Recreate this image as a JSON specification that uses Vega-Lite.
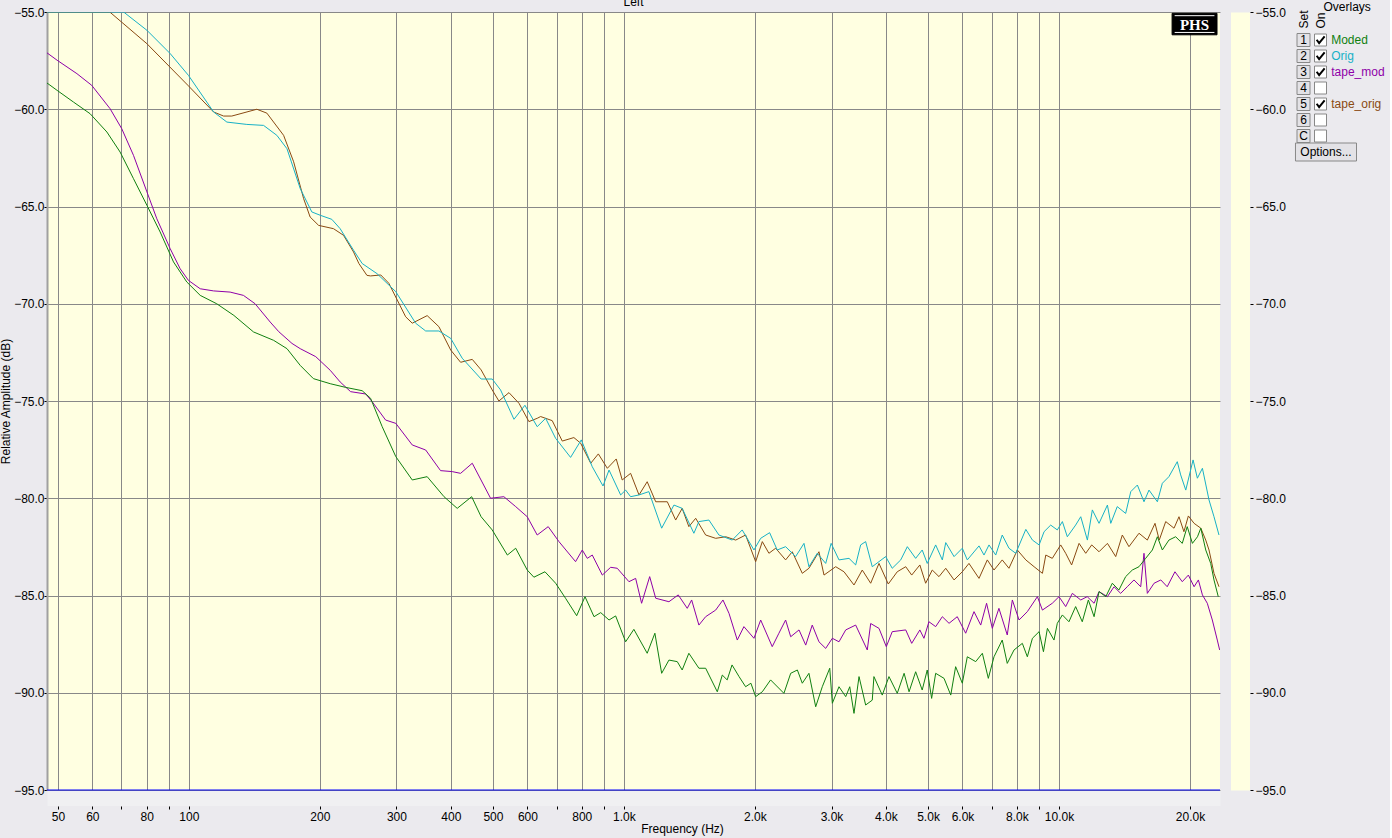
{
"$schema": "https://vega.github.io/schema/vega-lite/v6.json",
"background": "#ebeaee",
"padding": {"left": -1, "top": -4, "right": 5, "bottom": 6},
"spacing": 7,
"datasets": {
"legend": [
{"set":"1","series":"Moded","on":true},
{"set":"2","series":"Orig","on":true},
{"set":"3","series":"tape_mod","on":true},
{"set":"4","series":"","on":false},
{"set":"5","series":"tape_orig","on":true},
{"set":"6","series":"","on":false},
{"set":"C","series":"","on":false}
],
"curves": [
{"series":"tape_orig","freq":47.2,"db":-55.0},{"series":"tape_orig","freq":65.8,"db":-55.0},{"series":"tape_orig","freq":80.1,"db":-56.63},{"series":"tape_orig","freq":99.8,"db":-58.8},{"series":"tape_orig","freq":114,"db":-60.14},{"series":"tape_orig","freq":120.2,"db":-60.35},{"series":"tape_orig","freq":125.5,"db":-60.35},{"series":"tape_orig","freq":143.3,"db":-60.0},{"series":"tape_orig","freq":151.1,"db":-60.2},{"series":"tape_orig","freq":165.1,"db":-61.34},{"series":"tape_orig","freq":174.1,"db":-62.7},{"series":"tape_orig","freq":183.6,"db":-64.6},{"series":"tape_orig","freq":190,"db":-65.54},{"series":"tape_orig","freq":198.7,"db":-65.97},{"series":"tape_orig","freq":215,"db":-66.14},{"series":"tape_orig","freq":226.7,"db":-66.48},{"series":"tape_orig","freq":239.1,"db":-67.34},{"series":"tape_orig","freq":245.9,"db":-67.93},{"series":"tape_orig","freq":256.6,"db":-68.54},{"series":"tape_orig","freq":261.6,"db":-68.57},{"series":"tape_orig","freq":276.1,"db":-68.52},{"series":"tape_orig","freq":288.2,"db":-68.95},{"series":"tape_orig","freq":301.3,"db":-69.81},{"series":"tape_orig","freq":315,"db":-70.67},{"series":"tape_orig","freq":326.2,"db":-71.0},{"series":"tape_orig","freq":353,"db":-70.61},{"series":"tape_orig","freq":375.6,"db":-71.18},{"series":"tape_orig","freq":399.8,"db":-72.38},{"series":"tape_orig","freq":421.3,"db":-73.01},{"series":"tape_orig","freq":448.1,"db":-72.86},{"series":"tape_orig","freq":469.6,"db":-73.4},{"series":"tape_orig","freq":498,"db":-74.43},{"series":"tape_orig","freq":515.9,"db":-75.0},{"series":"tape_orig","freq":544.2,"db":-74.57},{"series":"tape_orig","freq":573.9,"db":-75.12},{"series":"tape_orig","freq":604.8,"db":-76.06},{"series":"tape_orig","freq":631.9,"db":-75.89},{"series":"tape_orig","freq":643.5,"db":-75.8},{"series":"tape_orig","freq":684.2,"db":-76.01},{"series":"tape_orig","freq":721.5,"db":-77.06},{"series":"tape_orig","freq":767.3,"db":-76.88},{"series":"tape_orig","freq":795.3,"db":-77.17},{"series":"tape_orig","freq":838.8,"db":-78.2},{"series":"tape_orig","freq":873.3,"db":-77.72},{"series":"tape_orig","freq":915.9,"db":-78.46},{"series":"tape_orig","freq":960,"db":-77.98},{"series":"tape_orig","freq":991,"db":-79.06},{"series":"tape_orig","freq":1036,"db":-78.72},{"series":"tape_orig","freq":1083,"db":-79.83},{"series":"tape_orig","freq":1131,"db":-79.15},{"series":"tape_orig","freq":1183,"db":-80.18},{"series":"tape_orig","freq":1258,"db":-80.18},{"series":"tape_orig","freq":1315,"db":-81.12},{"series":"tape_orig","freq":1361,"db":-80.52},{"series":"tape_orig","freq":1410,"db":-81.46},{"series":"tape_orig","freq":1462,"db":-81.03},{"series":"tape_orig","freq":1541,"db":-81.89},{"series":"tape_orig","freq":1625,"db":-82.06},{"series":"tape_orig","freq":1714,"db":-81.98},{"series":"tape_orig","freq":1807,"db":-82.15},{"series":"tape_orig","freq":1904,"db":-81.89},{"series":"tape_orig","freq":2008,"db":-83.26},{"series":"tape_orig","freq":2080,"db":-82.23},{"series":"tape_orig","freq":2154,"db":-82.83},{"series":"tape_orig","freq":2232,"db":-82.57},{"series":"tape_orig","freq":2353,"db":-83.17},{"series":"tape_orig","freq":2437,"db":-82.75},{"series":"tape_orig","freq":2570,"db":-83.86},{"series":"tape_orig","freq":2662,"db":-83.6},{"series":"tape_orig","freq":2807,"db":-82.75},{"series":"tape_orig","freq":2883,"db":-83.95},{"series":"tape_orig","freq":3067,"db":-83.52},{"series":"tape_orig","freq":3205,"db":-83.78},{"series":"tape_orig","freq":3379,"db":-84.46},{"series":"tape_orig","freq":3530,"db":-83.69},{"series":"tape_orig","freq":3691,"db":-84.37},{"series":"tape_orig","freq":3857,"db":-83.35},{"series":"tape_orig","freq":4051,"db":-84.41},{"series":"tape_orig","freq":4248,"db":-83.78},{"series":"tape_orig","freq":4443,"db":-83.52},{"series":"tape_orig","freq":4586,"db":-83.95},{"series":"tape_orig","freq":4788,"db":-83.43},{"series":"tape_orig","freq":4937,"db":-84.37},{"series":"tape_orig","freq":5113,"db":-83.69},{"series":"tape_orig","freq":5298,"db":-84.03},{"series":"tape_orig","freq":5491,"db":-83.6},{"series":"tape_orig","freq":5738,"db":-84.2},{"series":"tape_orig","freq":5994,"db":-83.78},{"series":"tape_orig","freq":6209,"db":-83.35},{"series":"tape_orig","freq":6548,"db":-84.12},{"series":"tape_orig","freq":6842,"db":-83.17},{"series":"tape_orig","freq":7089,"db":-83.69},{"series":"tape_orig","freq":7405,"db":-83.17},{"series":"tape_orig","freq":7673,"db":-83.6},{"series":"tape_orig","freq":8021,"db":-82.66},{"series":"tape_orig","freq":8389,"db":-83.17},{"series":"tape_orig","freq":8764,"db":-83.52},{"series":"tape_orig","freq":9159,"db":-83.86},{"series":"tape_orig","freq":9325,"db":-82.92},{"series":"tape_orig","freq":9651,"db":-83.09},{"series":"tape_orig","freq":10090,"db":-82.4},{"series":"tape_orig","freq":10360,"db":-82.83},{"series":"tape_orig","freq":10690,"db":-83.43},{"series":"tape_orig","freq":11120,"db":-82.32},{"series":"tape_orig","freq":11520,"db":-82.83},{"series":"tape_orig","freq":11890,"db":-82.4},{"series":"tape_orig","freq":12360,"db":-82.75},{"series":"tape_orig","freq":12920,"db":-82.32},{"series":"tape_orig","freq":13500,"db":-83.0},{"series":"tape_orig","freq":13980,"db":-81.89},{"series":"tape_orig","freq":14480,"db":-82.49},{"series":"tape_orig","freq":15270,"db":-81.8},{"series":"tape_orig","freq":15960,"db":-82.15},{"series":"tape_orig","freq":16620,"db":-81.29},{"series":"tape_orig","freq":17000,"db":-82.15},{"series":"tape_orig","freq":17590,"db":-81.2},{"series":"tape_orig","freq":18380,"db":-81.54},{"series":"tape_orig","freq":18870,"db":-80.95},{"series":"tape_orig","freq":19370,"db":-81.72},{"series":"tape_orig","freq":19830,"db":-80.91},{"series":"tape_orig","freq":20440,"db":-81.29},{"series":"tape_orig","freq":21180,"db":-81.54},{"series":"tape_orig","freq":21740,"db":-82.15},{"series":"tape_orig","freq":22120,"db":-82.66},{"series":"tape_orig","freq":22710,"db":-83.86},{"series":"tape_orig","freq":23320,"db":-84.55},
{"series":"Orig","freq":47.2,"db":-55.0},{"series":"Orig","freq":70.8,"db":-55.0},{"series":"Orig","freq":80.1,"db":-55.94},{"series":"Orig","freq":90.6,"db":-57.14},{"series":"Orig","freq":99.8,"db":-58.26},{"series":"Orig","freq":114,"db":-60.14},{"series":"Orig","freq":122.3,"db":-60.66},{"series":"Orig","freq":135.9,"db":-60.78},{"series":"Orig","freq":148.5,"db":-60.83},{"series":"Orig","freq":159.3,"db":-61.34},{"series":"Orig","freq":168.1,"db":-62.03},{"series":"Orig","freq":180.3,"db":-64.08},{"series":"Orig","freq":191.7,"db":-65.28},{"series":"Orig","freq":200.4,"db":-65.45},{"series":"Orig","freq":213.1,"db":-65.66},{"series":"Orig","freq":222.7,"db":-66.14},{"series":"Orig","freq":239.1,"db":-67.25},{"series":"Orig","freq":250.2,"db":-67.93},{"series":"Orig","freq":270.6,"db":-68.45},{"series":"Orig","freq":299,"db":-69.38},{"series":"Orig","freq":332.1,"db":-71.0},{"series":"Orig","freq":350.2,"db":-71.4},{"series":"Orig","freq":375.6,"db":-71.4},{"series":"Orig","freq":399.8,"db":-71.78},{"series":"Orig","freq":424.9,"db":-72.8},{"series":"Orig","freq":469.6,"db":-73.87},{"series":"Orig","freq":498,"db":-73.87},{"series":"Orig","freq":520.5,"db":-74.43},{"series":"Orig","freq":558.8,"db":-75.94},{"series":"Orig","freq":592.1,"db":-75.22},{"series":"Orig","freq":631.9,"db":-76.32},{"series":"Orig","freq":660.8,"db":-75.89},{"series":"Orig","freq":696.7,"db":-76.92},{"series":"Orig","freq":754,"db":-77.9},{"series":"Orig","freq":797.9,"db":-77.0},{"series":"Orig","freq":845.7,"db":-78.38},{"series":"Orig","freq":895.2,"db":-79.37},{"series":"Orig","freq":924.2,"db":-78.55},{"series":"Orig","freq":982.7,"db":-79.83},{"series":"Orig","freq":1009,"db":-79.58},{"series":"Orig","freq":1036,"db":-79.92},{"series":"Orig","freq":1083,"db":-79.83},{"series":"Orig","freq":1141,"db":-79.66},{"series":"Orig","freq":1221,"db":-81.54},{"series":"Orig","freq":1303,"db":-80.35},{"series":"Orig","freq":1361,"db":-80.52},{"series":"Orig","freq":1448,"db":-81.8},{"series":"Orig","freq":1487,"db":-81.2},{"series":"Orig","freq":1568,"db":-81.12},{"series":"Orig","freq":1653,"db":-81.89},{"series":"Orig","freq":1774,"db":-82.15},{"series":"Orig","freq":1870,"db":-81.63},{"series":"Orig","freq":1990,"db":-82.66},{"series":"Orig","freq":2062,"db":-82.06},{"series":"Orig","freq":2162,"db":-81.77},{"series":"Orig","freq":2251,"db":-82.66},{"series":"Orig","freq":2353,"db":-82.49},{"series":"Orig","freq":2481,"db":-83.0},{"series":"Orig","freq":2593,"db":-82.32},{"series":"Orig","freq":2662,"db":-83.52},{"series":"Orig","freq":2782,"db":-82.83},{"series":"Orig","freq":2909,"db":-83.35},{"series":"Orig","freq":2994,"db":-82.32},{"series":"Orig","freq":3121,"db":-83.17},{"series":"Orig","freq":3291,"db":-83.09},{"series":"Orig","freq":3409,"db":-83.43},{"series":"Orig","freq":3500,"db":-82.4},{"series":"Orig","freq":3594,"db":-82.23},{"series":"Orig","freq":3722,"db":-83.52},{"series":"Orig","freq":3996,"db":-83.0},{"series":"Orig","freq":4137,"db":-83.6},{"series":"Orig","freq":4327,"db":-83.17},{"series":"Orig","freq":4481,"db":-82.49},{"series":"Orig","freq":4683,"db":-83.09},{"series":"Orig","freq":4848,"db":-82.66},{"series":"Orig","freq":4979,"db":-83.35},{"series":"Orig","freq":5206,"db":-82.4},{"series":"Orig","freq":5393,"db":-83.17},{"series":"Orig","freq":5491,"db":-82.28},{"series":"Orig","freq":5738,"db":-83.0},{"series":"Orig","freq":5994,"db":-82.57},{"series":"Orig","freq":6155,"db":-83.17},{"series":"Orig","freq":6548,"db":-82.45},{"series":"Orig","freq":6724,"db":-82.92},{"series":"Orig","freq":6904,"db":-82.4},{"series":"Orig","freq":7154,"db":-82.92},{"series":"Orig","freq":7405,"db":-81.89},{"series":"Orig","freq":7673,"db":-82.57},{"series":"Orig","freq":7953,"db":-82.83},{"series":"Orig","freq":8389,"db":-81.6},{"series":"Orig","freq":8688,"db":-82.15},{"series":"Orig","freq":9000,"db":-82.4},{"series":"Orig","freq":9240,"db":-81.72},{"series":"Orig","freq":9570,"db":-81.38},{"series":"Orig","freq":9910,"db":-81.63},{"series":"Orig","freq":10180,"db":-81.2},{"series":"Orig","freq":10450,"db":-81.98},{"series":"Orig","freq":10920,"db":-81.38},{"series":"Orig","freq":11220,"db":-80.95},{"series":"Orig","freq":11620,"db":-82.15},{"series":"Orig","freq":11930,"db":-80.6},{"series":"Orig","freq":12360,"db":-81.29},{"series":"Orig","freq":12920,"db":-80.35},{"series":"Orig","freq":13150,"db":-81.29},{"series":"Orig","freq":13610,"db":-80.43},{"series":"Orig","freq":14230,"db":-80.78},{"series":"Orig","freq":14620,"db":-79.66},{"series":"Orig","freq":15140,"db":-79.32},{"series":"Orig","freq":15680,"db":-80.18},{"series":"Orig","freq":16100,"db":-79.58},{"series":"Orig","freq":16830,"db":-80.18},{"series":"Orig","freq":17280,"db":-79.23},{"series":"Orig","freq":17890,"db":-78.89},{"series":"Orig","freq":18700,"db":-78.12},{"series":"Orig","freq":19040,"db":-78.8},{"series":"Orig","freq":19560,"db":-79.58},{"series":"Orig","freq":20330,"db":-78.03},{"series":"Orig","freq":20800,"db":-78.97},{"series":"Orig","freq":21360,"db":-78.46},{"series":"Orig","freq":22120,"db":-80.09},{"series":"Orig","freq":22710,"db":-80.95},{"series":"Orig","freq":23320,"db":-81.89},
{"series":"tape_mod","freq":47.2,"db":-57.1},{"series":"tape_mod","freq":49.8,"db":-57.48},{"series":"tape_mod","freq":55.3,"db":-58.17},{"series":"tape_mod","freq":59.8,"db":-58.77},{"series":"tape_mod","freq":65.9,"db":-59.97},{"series":"tape_mod","freq":70.1,"db":-61.0},{"series":"tape_mod","freq":74.6,"db":-62.37},{"series":"tape_mod","freq":80.1,"db":-64.25},{"series":"tape_mod","freq":84.4,"db":-65.63},{"series":"tape_mod","freq":90.6,"db":-67.17},{"series":"tape_mod","freq":95.5,"db":-68.2},{"series":"tape_mod","freq":99.8,"db":-68.8},{"series":"tape_mod","freq":106.2,"db":-69.23},{"series":"tape_mod","freq":114,"db":-69.34},{"series":"tape_mod","freq":124.4,"db":-69.4},{"series":"tape_mod","freq":133.5,"db":-69.57},{"series":"tape_mod","freq":142,"db":-70.0},{"series":"tape_mod","freq":153.8,"db":-70.94},{"series":"tape_mod","freq":161,"db":-71.44},{"series":"tape_mod","freq":172.6,"db":-72.04},{"series":"tape_mod","freq":180.3,"db":-72.31},{"series":"tape_mod","freq":195.7,"db":-72.72},{"series":"tape_mod","freq":211.3,"db":-73.42},{"series":"tape_mod","freq":222.7,"db":-74.02},{"series":"tape_mod","freq":235.4,"db":-74.52},{"series":"tape_mod","freq":254.9,"db":-74.64},{"series":"tape_mod","freq":263.9,"db":-75.04},{"series":"tape_mod","freq":283.3,"db":-75.98},{"series":"tape_mod","freq":299,"db":-76.15},{"series":"tape_mod","freq":326.2,"db":-77.26},{"series":"tape_mod","freq":350.2,"db":-77.52},{"series":"tape_mod","freq":378.9,"db":-78.58},{"series":"tape_mod","freq":403,"db":-78.63},{"series":"tape_mod","freq":421.3,"db":-78.72},{"series":"tape_mod","freq":448.1,"db":-78.2},{"series":"tape_mod","freq":493.7,"db":-80.0},{"series":"tape_mod","freq":529.7,"db":-79.92},{"series":"tape_mod","freq":563.9,"db":-80.43},{"series":"tape_mod","freq":599.4,"db":-80.95},{"series":"tape_mod","freq":631.9,"db":-81.89},{"series":"tape_mod","freq":669.8,"db":-81.46},{"series":"tape_mod","freq":709,"db":-82.23},{"series":"tape_mod","freq":774.2,"db":-83.26},{"series":"tape_mod","freq":802.1,"db":-82.66},{"series":"tape_mod","freq":823.8,"db":-83.09},{"series":"tape_mod","freq":845.7,"db":-82.92},{"series":"tape_mod","freq":891.9,"db":-83.95},{"series":"tape_mod","freq":932.2,"db":-83.55},{"series":"tape_mod","freq":965.2,"db":-83.6},{"series":"tape_mod","freq":1027,"db":-84.29},{"series":"tape_mod","freq":1064,"db":-84.12},{"series":"tape_mod","freq":1098,"db":-85.4},{"series":"tape_mod","freq":1146,"db":-84.03},{"series":"tape_mod","freq":1183,"db":-85.14},{"series":"tape_mod","freq":1269,"db":-85.32},{"series":"tape_mod","freq":1333,"db":-84.97},{"series":"tape_mod","freq":1398,"db":-85.66},{"series":"tape_mod","freq":1431,"db":-85.23},{"series":"tape_mod","freq":1487,"db":-86.52},{"series":"tape_mod","freq":1541,"db":-86.09},{"series":"tape_mod","freq":1625,"db":-85.75},{"series":"tape_mod","freq":1689,"db":-85.23},{"series":"tape_mod","freq":1744,"db":-85.92},{"series":"tape_mod","freq":1822,"db":-87.29},{"series":"tape_mod","freq":1887,"db":-86.6},{"series":"tape_mod","freq":1990,"db":-87.2},{"series":"tape_mod","freq":2062,"db":-86.26},{"series":"tape_mod","freq":2192,"db":-87.63},{"series":"tape_mod","freq":2271,"db":-86.94},{"series":"tape_mod","freq":2353,"db":-86.26},{"series":"tape_mod","freq":2417,"db":-87.12},{"series":"tape_mod","freq":2526,"db":-86.77},{"series":"tape_mod","freq":2617,"db":-87.55},{"series":"tape_mod","freq":2709,"db":-86.52},{"series":"tape_mod","freq":2807,"db":-87.38},{"series":"tape_mod","freq":2909,"db":-87.72},{"series":"tape_mod","freq":3013,"db":-87.2},{"series":"tape_mod","freq":3121,"db":-87.38},{"series":"tape_mod","freq":3234,"db":-86.77},{"series":"tape_mod","freq":3409,"db":-86.52},{"series":"tape_mod","freq":3625,"db":-87.8},{"series":"tape_mod","freq":3691,"db":-86.44},{"series":"tape_mod","freq":3857,"db":-86.69},{"series":"tape_mod","freq":4009,"db":-87.63},{"series":"tape_mod","freq":4137,"db":-86.86},{"series":"tape_mod","freq":4443,"db":-86.77},{"series":"tape_mod","freq":4586,"db":-87.46},{"series":"tape_mod","freq":4788,"db":-86.77},{"series":"tape_mod","freq":4893,"db":-87.2},{"series":"tape_mod","freq":5024,"db":-86.35},{"series":"tape_mod","freq":5206,"db":-86.6},{"series":"tape_mod","freq":5393,"db":-86.09},{"series":"tape_mod","freq":5588,"db":-86.43},{"series":"tape_mod","freq":5836,"db":-86.09},{"series":"tape_mod","freq":6102,"db":-86.94},{"series":"tape_mod","freq":6377,"db":-85.83},{"series":"tape_mod","freq":6608,"db":-86.52},{"series":"tape_mod","freq":6816,"db":-85.4},{"series":"tape_mod","freq":7026,"db":-86.69},{"series":"tape_mod","freq":7276,"db":-85.66},{"series":"tape_mod","freq":7604,"db":-87.03},{"series":"tape_mod","freq":7812,"db":-85.23},{"series":"tape_mod","freq":8094,"db":-86.26},{"series":"tape_mod","freq":8457,"db":-85.83},{"series":"tape_mod","freq":8919,"db":-85.06},{"series":"tape_mod","freq":9159,"db":-85.75},{"series":"tape_mod","freq":9651,"db":-85.4},{"series":"tape_mod","freq":10000,"db":-85.06},{"series":"tape_mod","freq":10360,"db":-85.57},{"series":"tape_mod","freq":10730,"db":-84.89},{"series":"tape_mod","freq":11220,"db":-85.23},{"series":"tape_mod","freq":11610,"db":-85.06},{"series":"tape_mod","freq":12040,"db":-85.4},{"series":"tape_mod","freq":12360,"db":-84.8},{"series":"tape_mod","freq":12920,"db":-85.06},{"series":"tape_mod","freq":13380,"db":-84.55},{"series":"tape_mod","freq":13860,"db":-84.89},{"series":"tape_mod","freq":14350,"db":-84.55},{"series":"tape_mod","freq":14870,"db":-84.2},{"series":"tape_mod","freq":15410,"db":-84.55},{"series":"tape_mod","freq":15680,"db":-82.83},{"series":"tape_mod","freq":15960,"db":-84.89},{"series":"tape_mod","freq":16540,"db":-84.37},{"series":"tape_mod","freq":17140,"db":-84.2},{"series":"tape_mod","freq":17730,"db":-84.55},{"series":"tape_mod","freq":18470,"db":-83.78},{"series":"tape_mod","freq":19200,"db":-84.29},{"series":"tape_mod","freq":19830,"db":-83.95},{"series":"tape_mod","freq":20440,"db":-84.55},{"series":"tape_mod","freq":20910,"db":-84.2},{"series":"tape_mod","freq":21360,"db":-84.97},{"series":"tape_mod","freq":21920,"db":-85.4},{"series":"tape_mod","freq":22510,"db":-86.26},{"series":"tape_mod","freq":23110,"db":-87.29},{"series":"tape_mod","freq":23400,"db":-87.8},
{"series":"Moded","freq":47.2,"db":-58.65},{"series":"Moded","freq":49.8,"db":-59.03},{"series":"Moded","freq":54.3,"db":-59.63},{"series":"Moded","freq":59.3,"db":-60.23},{"series":"Moded","freq":64.8,"db":-61.17},{"series":"Moded","freq":69.5,"db":-62.2},{"series":"Moded","freq":74.6,"db":-63.57},{"series":"Moded","freq":80.1,"db":-64.94},{"series":"Moded","freq":85.9,"db":-66.31},{"series":"Moded","freq":92.2,"db":-67.85},{"series":"Moded","freq":98.9,"db":-68.88},{"series":"Moded","freq":106.2,"db":-69.57},{"series":"Moded","freq":115.9,"db":-70.0},{"series":"Moded","freq":126.9,"db":-70.6},{"series":"Moded","freq":140.8,"db":-71.45},{"series":"Moded","freq":156.6,"db":-71.88},{"series":"Moded","freq":168.1,"db":-72.31},{"series":"Moded","freq":180.3,"db":-73.17},{"series":"Moded","freq":193.3,"db":-73.85},{"series":"Moded","freq":211.3,"db":-74.11},{"series":"Moded","freq":229.3,"db":-74.3},{"series":"Moded","freq":250.2,"db":-74.47},{"series":"Moded","freq":261.6,"db":-74.86},{"series":"Moded","freq":278.2,"db":-76.32},{"series":"Moded","freq":299,"db":-77.86},{"series":"Moded","freq":326.2,"db":-79.06},{"series":"Moded","freq":353,"db":-78.89},{"series":"Moded","freq":385.9,"db":-79.92},{"series":"Moded","freq":413.8,"db":-80.52},{"series":"Moded","freq":446.7,"db":-79.92},{"series":"Moded","freq":469.6,"db":-80.95},{"series":"Moded","freq":498,"db":-81.63},{"series":"Moded","freq":539.6,"db":-82.92},{"series":"Moded","freq":563.9,"db":-82.57},{"series":"Moded","freq":599.4,"db":-83.69},{"series":"Moded","freq":620.9,"db":-84.06},{"series":"Moded","freq":658.4,"db":-83.78},{"series":"Moded","freq":696.7,"db":-84.37},{"series":"Moded","freq":734.1,"db":-85.14},{"series":"Moded","freq":778.7,"db":-86.04},{"series":"Moded","freq":813.8,"db":-85.06},{"series":"Moded","freq":853.5,"db":-86.09},{"series":"Moded","freq":884.4,"db":-85.88},{"series":"Moded","freq":924.2,"db":-86.26},{"series":"Moded","freq":957,"db":-86.05},{"series":"Moded","freq":1009,"db":-87.38},{"series":"Moded","freq":1054,"db":-86.74},{"series":"Moded","freq":1131,"db":-87.97},{"series":"Moded","freq":1178,"db":-86.94},{"series":"Moded","freq":1221,"db":-89.0},{"series":"Moded","freq":1269,"db":-88.32},{"series":"Moded","freq":1326,"db":-88.4},{"series":"Moded","freq":1361,"db":-88.83},{"series":"Moded","freq":1410,"db":-87.97},{"series":"Moded","freq":1487,"db":-88.74},{"series":"Moded","freq":1541,"db":-88.74},{"series":"Moded","freq":1639,"db":-89.95},{"series":"Moded","freq":1683,"db":-89.09},{"series":"Moded","freq":1727,"db":-89.34},{"series":"Moded","freq":1772,"db":-88.57},{"series":"Moded","freq":1839,"db":-89.17},{"series":"Moded","freq":1904,"db":-89.69},{"series":"Moded","freq":1958,"db":-89.51},{"series":"Moded","freq":2008,"db":-90.2},{"series":"Moded","freq":2080,"db":-89.95},{"series":"Moded","freq":2173,"db":-89.34},{"series":"Moded","freq":2332,"db":-90.03},{"series":"Moded","freq":2417,"db":-89.0},{"series":"Moded","freq":2504,"db":-88.83},{"series":"Moded","freq":2570,"db":-89.51},{"series":"Moded","freq":2662,"db":-89.0},{"series":"Moded","freq":2759,"db":-90.72},{"series":"Moded","freq":2857,"db":-89.69},{"series":"Moded","freq":2972,"db":-88.74},{"series":"Moded","freq":3013,"db":-90.54},{"series":"Moded","freq":3121,"db":-89.69},{"series":"Moded","freq":3234,"db":-90.2},{"series":"Moded","freq":3304,"db":-89.69},{"series":"Moded","freq":3379,"db":-91.06},{"series":"Moded","freq":3470,"db":-89.17},{"series":"Moded","freq":3594,"db":-90.63},{"series":"Moded","freq":3722,"db":-90.38},{"series":"Moded","freq":3755,"db":-89.17},{"series":"Moded","freq":3924,"db":-90.12},{"series":"Moded","freq":4066,"db":-89.17},{"series":"Moded","freq":4248,"db":-90.03},{"series":"Moded","freq":4405,"db":-89.0},{"series":"Moded","freq":4522,"db":-89.95},{"series":"Moded","freq":4683,"db":-88.92},{"series":"Moded","freq":4848,"db":-89.86},{"series":"Moded","freq":4979,"db":-88.83},{"series":"Moded","freq":5096,"db":-90.29},{"series":"Moded","freq":5206,"db":-89.0},{"series":"Moded","freq":5442,"db":-89.26},{"series":"Moded","freq":5639,"db":-90.12},{"series":"Moded","freq":5786,"db":-88.66},{"series":"Moded","freq":5994,"db":-89.51},{"series":"Moded","freq":6155,"db":-88.15},{"series":"Moded","freq":6435,"db":-88.4},{"series":"Moded","freq":6665,"db":-87.97},{"series":"Moded","freq":6879,"db":-89.26},{"series":"Moded","freq":7089,"db":-88.15},{"series":"Moded","freq":7405,"db":-87.29},{"series":"Moded","freq":7604,"db":-88.49},{"series":"Moded","freq":7882,"db":-87.8},{"series":"Moded","freq":8236,"db":-87.46},{"series":"Moded","freq":8457,"db":-88.15},{"series":"Moded","freq":8688,"db":-87.2},{"series":"Moded","freq":9000,"db":-86.86},{"series":"Moded","freq":9209,"db":-87.89},{"series":"Moded","freq":9405,"db":-86.69},{"series":"Moded","freq":9738,"db":-87.29},{"series":"Moded","freq":9910,"db":-86.43},{"series":"Moded","freq":10180,"db":-86.0},{"series":"Moded","freq":10540,"db":-86.35},{"series":"Moded","freq":10920,"db":-85.57},{"series":"Moded","freq":11310,"db":-86.35},{"series":"Moded","freq":11680,"db":-85.23},{"series":"Moded","freq":12040,"db":-86.09},{"series":"Moded","freq":12360,"db":-84.8},{"series":"Moded","freq":12810,"db":-85.06},{"series":"Moded","freq":13260,"db":-84.37},{"series":"Moded","freq":13730,"db":-84.72},{"series":"Moded","freq":14230,"db":-84.03},{"series":"Moded","freq":14740,"db":-83.69},{"series":"Moded","freq":15270,"db":-83.52},{"series":"Moded","freq":15820,"db":-83.09},{"series":"Moded","freq":16390,"db":-82.66},{"series":"Moded","freq":16830,"db":-81.98},{"series":"Moded","freq":17280,"db":-82.66},{"series":"Moded","freq":17890,"db":-82.15},{"series":"Moded","freq":18540,"db":-81.98},{"series":"Moded","freq":19200,"db":-82.32},{"series":"Moded","freq":19710,"db":-81.46},{"series":"Moded","freq":20260,"db":-82.32},{"series":"Moded","freq":20810,"db":-81.98},{"series":"Moded","freq":21180,"db":-81.54},{"series":"Moded","freq":21740,"db":-82.66},{"series":"Moded","freq":22320,"db":-83.35},{"series":"Moded","freq":22710,"db":-84.2},{"series":"Moded","freq":23230,"db":-85.06}
]
},
"hconcat": [
{
"width": 1173,
"height": 778,
"view": {"fill": "#ffffe1", "stroke": null},
"title": {"text": "Left", "frame": "group", "fontSize": 12, "fontWeight": "normal", "font": "Liberation Sans", "color": "#000000", "offset": -3},
"resolve": {"axis": {"x": "independent", "y": "independent"}},
"layer": [
{
"data": {"name": "curves"},
"mark": {"type": "line", "strokeWidth": 1, "clip": true},
"encoding": {
"x": {"field": "freq", "type": "quantitative",
"scale": {"type": "log", "domain": [47.2, 23444], "nice": false},
"axis": {"orient": "bottom", "values": [50,60,70,80,90,100,200,300,400,500,600,700,800,900,1000,2000,3000,4000,5000,6000,7000,8000,9000,10000,20000],
"labelExpr": "indexof([70,90,700,900,7000,9000], datum.value) >= 0 ? '' : (datum.value >= 1000 ? format(datum.value / 1000, '.1f') + 'k' : format(datum.value, 'd'))",
"grid": true, "gridColor": "#888888", "gridWidth": 1, "gridOpacity": 1,
"offset": 8, "domainColor": "#f0f0f2", "domainWidth": 15,
"tickSize": 11, "tickDash": [0, 8, 3, 100], "tickColor": "#000000", "tickWidth": 1,
"labelPadding": 2, "labelFlush": false, "labelOverlap": false,
"title": "Frequency (Hz)", "titlePadding": 1, "titleX": 635}},
"y": {"field": "db", "type": "quantitative",
"scale": {"domain": [-95, -55], "nice": false, "zero": false},
"axis": {"orient": "left", "values": [-95,-90,-85,-80,-75,-70,-65,-60,-55], "format": ".1f",
"grid": true, "gridColor": "#888888", "gridWidth": 1, "gridOpacity": 1,
"domainColor": "#a0a0a0", "domainWidth": 2,
"tickSize": 3, "tickColor": "#000000", "labelPadding": 0, "labelFlush": false, "labelOverlap": false,
"title": "Relative Amplitude (dB)", "titlePadding": 1}},
"color": {"field": "series", "type": "nominal",
"scale": {"domain": ["Moded", "Orig", "tape_mod", "tape_orig"], "range": ["#108010", "#17b1c6", "#8e00a8", "#8a4a12"]},
"legend": null}
}
},
{
"data": {"values": [{}]},
"mark": {"type": "rule", "color": "#0000ff", "strokeWidth": 1},
"encoding": {
"y": {"datum": -95, "type": "quantitative",
"axis": {"orient": "right", "offset": 20, "values": [-95,-90,-85,-80,-75,-70,-65,-60,-55], "format": ".1f",
"grid": false, "domainColor": "#ffffe1", "domainWidth": 19,
"tickSize": 13, "tickDash": [0, 10, 3, 100], "tickColor": "#000000",
"labelPadding": 2, "labelFlush": false, "labelOverlap": false, "title": null}}
}
},
{
"data": {"values": [{"logo": "PHS"}]},
"mark": {"type": "point", "shape": "M-2.09,-1H2.09V1H-2.09Z", "size": 462, "filled": true, "fill": "#000000", "stroke": "#000000", "strokeWidth": 1, "opacity": 1},
"encoding": {
"x": {"datum": 20490, "type": "quantitative", "axis": null},
"y": {"datum": -55.62, "type": "quantitative", "axis": null}
}
},
{
"data": {"values": [{"logo": "PHS"}]},
"mark": {"type": "point", "shape": "M-1.85,-0.78H1.85M-1.85,0.78H1.85", "size": 462, "filled": false, "stroke": "#ffffff", "strokeWidth": 1, "opacity": 1},
"encoding": {
"x": {"datum": 20490, "type": "quantitative", "axis": null},
"y": {"datum": -55.62, "type": "quantitative", "axis": null}
}
},
{
"data": {"values": [{"logo": "PHS"}]},
"mark": {"type": "text", "font": "Liberation Serif", "fontWeight": "bold", "fontSize": 15, "color": "#ffffff", "baseline": "middle", "dy": 1},
"encoding": {
"x": {"datum": 20490, "type": "quantitative", "axis": null},
"y": {"datum": -55.62, "type": "quantitative", "axis": null},
"text": {"field": "logo"}
}
}
]
},
{
"width": 51,
"height": 152,
"title": {"text": "Overlays", "frame": "group", "anchor": "start", "dx": 28.5, "offset": -4, "fontSize": 12, "font": "Liberation Sans", "fontWeight": "normal", "color": "#000000"},
"data": {"name": "legend"},
"resolve": {"axis": {"x": "independent"}},
"encoding": {
"y": {"field": "set", "type": "ordinal", "scale": {"type": "point", "domain": ["hdr","1","2","3","4","5","6","C","Options"], "padding": 0.75}, "axis": null}
},
"layer": [
{
"mark": {"type": "point", "shape": "square", "size": 169, "filled": true, "fill": "#e3e2e6", "stroke": "#888888", "strokeWidth": 1, "opacity": 1},
"encoding": {
"x": {"datum": "Set", "type": "ordinal",
"scale": {"type": "point", "domain": ["Set", "On", "name"], "padding": 0.5},
"axis": {"orient": "top", "offset": -18, "labelAngle": 270, "labelAlign": "left", "labelBaseline": "middle", "labelPadding": 2,
"ticks": false, "domain": false, "grid": false, "title": null,
"labelExpr": "datum.label == 'name' ? '' : datum.label",
"labelFont": "Liberation Sans", "labelFontSize": 12, "labelColor": "#000000"}}
}
},
{
"mark": {"type": "text", "font": "Liberation Sans", "fontSize": 12, "color": "#000000"},
"encoding": {"x": {"datum": "Set", "type": "ordinal", "axis": null}, "text": {"field": "set"}}
},
{
"mark": {"type": "point", "shape": "square", "size": 144, "filled": true, "fill": "#ffffff", "stroke": "#888888", "strokeWidth": 1, "opacity": 1},
"encoding": {"x": {"datum": "On", "type": "ordinal", "axis": null}}
},
{
"transform": [{"filter": "datum.on"}],
"mark": {"type": "point", "shape": "M-0.7,-0.05L-0.25,0.55L0.75,-0.65", "size": 121, "filled": false, "stroke": "#000000", "strokeWidth": 2, "opacity": 1},
"encoding": {"x": {"datum": "On", "type": "ordinal", "axis": null}}
},
{
"transform": [{"filter": "datum.series != ''"}],
"mark": {"type": "text", "align": "left", "dx": -6.3, "font": "Liberation Sans", "fontSize": 12},
"encoding": {"x": {"datum": "name", "type": "ordinal", "axis": null}, "text": {"field": "series"},
"color": {"field": "series", "type": "nominal", "legend": null}}
},
{
"data": {"values": [{"set": "Options", "label": "Options..."}]},
"mark": {"type": "point", "shape": "M-2.78,-1H4V1H-2.78Z", "size": 324, "filled": true, "fill": "#e3e2e6", "stroke": "#888888", "strokeWidth": 1, "opacity": 1},
"encoding": {"x": {"datum": "On", "type": "ordinal", "axis": null}}
},
{
"data": {"values": [{"set": "Options", "label": "Options..."}]},
"mark": {"type": "text", "dx": 5.5, "font": "Liberation Sans", "fontSize": 12, "color": "#000000"},
"encoding": {"x": {"datum": "On", "type": "ordinal", "axis": null}, "text": {"field": "label"}}
}
]
}
],
"config": {
"font": "Liberation Sans",
"view": {"stroke": null},
"axis": {"labelFont": "Liberation Sans", "titleFont": "Liberation Sans", "labelFontSize": 12, "titleFontSize": 12, "titleFontWeight": "normal", "labelColor": "#000000", "titleColor": "#000000"}
}
}
